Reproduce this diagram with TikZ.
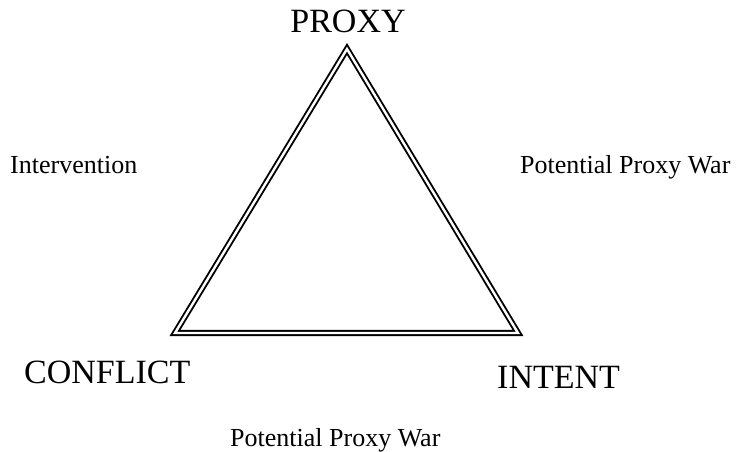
\documentclass[tikz,border=0pt]{standalone}
\usepackage{fontspec}
\setmainfont{Liberation Serif}
\begin{document}
\begin{tikzpicture}[x=1pt,y=-1pt,
  big/.style={font=\fontsize{34}{40}\selectfont, inner sep=0pt, anchor=base},
  small/.style={font=\fontsize{26}{30}\selectfont, inner sep=0pt, anchor=base west},
  tri/.style={draw=black, line width=1.9pt, double=white, double distance=2.4pt, line join=miter}]
\useasboundingbox (0,0) rectangle (740,451);
\coordinate (p) at (347,49);
\coordinate (c) at (175,333);
\coordinate (i) at (518,333);
\draw[tri] (p) -- (c) -- (i) -- cycle;
\node[big] (proxy) at (348,32) {PROXY};
\node[big, anchor=base west] (conflict) at (24,383) {CONFLICT};
\node[big, anchor=base west] (intent) at (497,388) {INTENT};
\node[small] (interv) at (10,173) {Intervention};
\node[small] (ppw1) at (520,173) {Potential Proxy War};
\node[small] (ppw2) at (230,446) {Potential Proxy War};
\end{tikzpicture}
\end{document}
